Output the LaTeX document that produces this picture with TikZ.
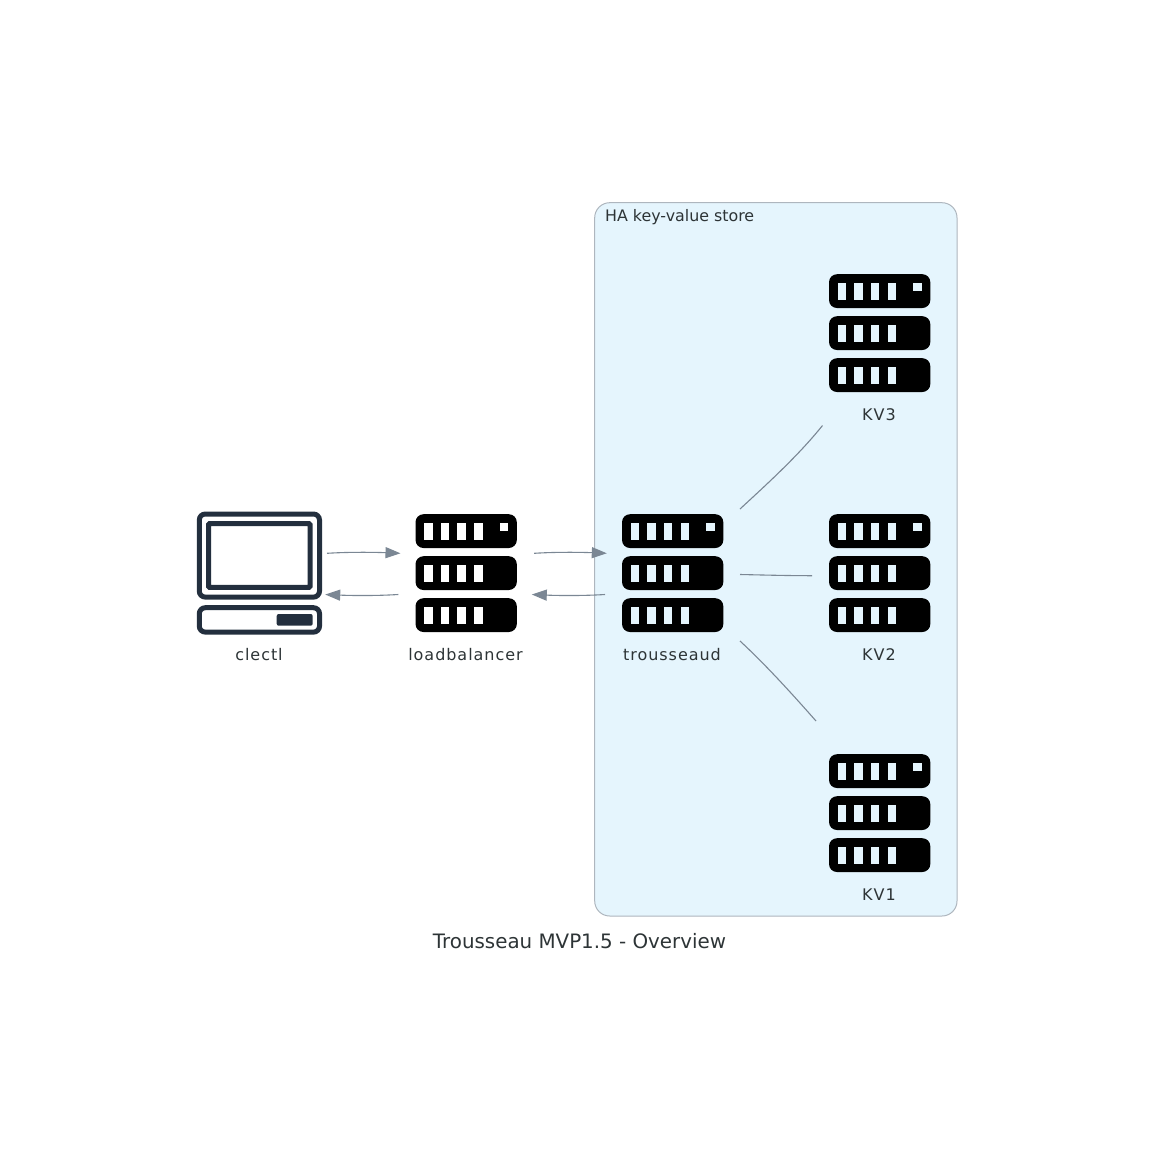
\documentclass[tikz,border=0pt]{standalone}
\usepackage{fontspec}
\setmainfont{DejaVu Sans}
\usetikzlibrary{arrows.meta,calc}
\definecolor{edgecol}{HTML}{7B8794}
\definecolor{clusterfill}{HTML}{E5F5FD}
\definecolor{clusterline}{HTML}{AEB6BE}
\definecolor{labelcol}{HTML}{2D3436}
\definecolor{laptopcol}{HTML}{232F3E}
\tikzset{
  x=1pt,y=-1pt,
  iconbox/.style={minimum width=134pt,minimum height=134pt,inner sep=0pt,outer sep=0pt},
  iconlabel/.style={font=\fontsize{16}{19}\selectfont\addfontfeature{LetterSpace=6},text=labelcol,inner sep=0pt,anchor=base},
  link/.style={draw=edgecol,line width=1.1pt},
  flow/.style={link,-{Triangle[length=15pt,width=11pt,fill=edgecol]}},
  laptopline/.style={draw=laptopcol,line width=5pt,rounded corners=6pt},
  serverpic/.pic={
    \foreach \yy in {-59.3,-17.3,24.7}{
      \fill[black,rounded corners=8pt] (-51,\yy) rectangle (50.3,\yy+33.8);
      \foreach \xx in {-42.5,-25.8,-9.2,7.8}{
        \fill[pic actions] (\xx,\yy+8.3) rectangle (\xx+8.6,\yy+25.7);
      }
    }
    \fill[pic actions] (33.2,-51) rectangle (41.5,-42.6);
  },
  laptoppic/.pic={
    \path[laptopline] (-60.2,-59.5) rectangle (60,23.6);
    \path[laptopline,rounded corners=1pt] (-50.9,-49.9) rectangle (50.5,13.9);
    \path[laptopline] (-60.2,34.2) rectangle (60,58.6);
    \fill[laptopcol,rounded corners=2pt] (17.2,40.5) rectangle (53.2,52.2);
  }
}
\begin{document}
\begin{tikzpicture}
\useasboundingbox (0,0) rectangle (1160,1152);
\node[iconbox] (clectl) at (259.5,573.5) {};
\node[iconbox] (lb) at (466.5,573.5) {};
\node[iconbox] (tr) at (673,573.5) {};
\node[iconbox] (kvthree) at (880,333.5) {};
\node[iconbox] (kvtwo) at (880,573.5) {};
\node[iconbox] (kvone) at (880,813.5) {};
\draw[fill=clusterfill,draw=clusterline,line width=1pt,rounded corners=15pt] (594.7,202.7) rectangle (957,916);
\node[anchor=base west,inner sep=0pt,text=labelcol,font=\fontsize{15.85}{19}\selectfont] (clusterlabel) at (605,221) {HA key-value store};
\pic at (clectl.center) {laptoppic};
\pic[fill=white] at (lb.center) {serverpic};
\pic[fill=clusterfill] at (tr.center) {serverpic};
\pic[fill=clusterfill] at (kvthree.center) {serverpic};
\pic[fill=clusterfill] at (kvtwo.center) {serverpic};
\pic[fill=clusterfill] at (kvone.center) {serverpic};
\node[iconlabel] (clectllabel) at (259,660) {clectl};
\node[iconlabel] (lblabel) at (465.5,660) {loadbalancer};
\node[iconlabel] (trlabel) at (672,660) {trousseaud};
\node[iconlabel] (kvthreelabel) at (879,420) {KV3};
\node[iconlabel] (kvtwolabel) at (879,660) {KV2};
\node[iconlabel] (kvonelabel) at (879,900) {KV1};
\node[anchor=base,inner sep=0pt,text=labelcol,font=\fontsize{19.85}{24}\selectfont] (title) at (579.5,948) {Trousseau MVP1.5 - Overview};
\coordinate (aout) at ([shift={(0.5pt,20.2pt)}]clectl.east);
\coordinate (bin) at ([shift={(1pt,20.2pt)}]lb.west);
\coordinate (bback) at ([shift={(-1.2pt,-21pt)}]lb.west);
\coordinate (aback) at ([shift={(-1.3pt,-21pt)}]clectl.east);
\coordinate (bout) at ([shift={(0.7pt,20.2pt)}]lb.east);
\coordinate (cin) at ([shift={(0.8pt,20.2pt)}]tr.west);
\coordinate (cback) at ([shift={(-1pt,-21pt)}]tr.west);
\coordinate (bbackin) at ([shift={(-1.7pt,-21pt)}]lb.east);
\coordinate (ctop) at ([shift={(0pt,64.5pt)}]tr.east);
\coordinate (cmid) at ([shift={(0pt,-1pt)}]tr.east);
\coordinate (cbot) at ([shift={(0pt,-67.5pt)}]tr.east);
\coordinate (kthreeend) at ([shift={(-57.5pt,-25pt)}]kvthree.south);
\coordinate (ktwoend) at ([shift={(-1pt,-2.2pt)}]kvtwo.west);
\coordinate (koneend) at ([shift={(-64pt,25.5pt)}]kvone.north);
\draw[flow] (aout) .. controls +(24,-1.5) and +(-24,-1) .. (bin);
\draw[flow] (bback) .. controls +(-24,1.5) and +(24,1) .. (aback);
\draw[flow] (bout) .. controls +(24,-1.5) and +(-24,-1) .. (cin);
\draw[flow] (cback) .. controls +(-24,1.5) and +(24,1) .. (bbackin);
\draw[link] (ctop) .. controls +(26.5,-24.5) and +(-24.5,30.5) .. (kthreeend);
\draw[link] (cmid) .. controls +(24,0.5) and +(-24,0) .. (ktwoend);
\draw[link] (cbot) .. controls +(26.5,24.5) and +(-22,-25) .. (koneend);
\end{tikzpicture}
\end{document}
